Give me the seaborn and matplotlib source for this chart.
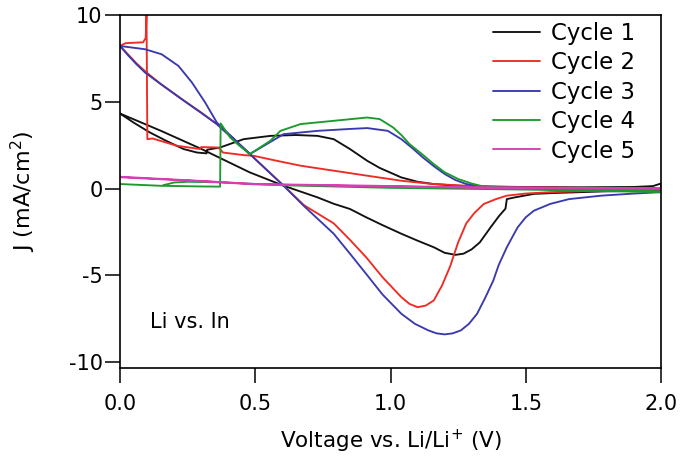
import numpy as np
import pandas as pd
import seaborn as sns
import matplotlib.pyplot as plt

# Cyclic voltammetry, Li vs. In, five cycles
v1 = [0.00, 0.05, 0.11, 0.17, 0.235, 0.284, 0.32, 0.322, 0.37, 0.457, 0.556, 0.65, 0.73, 0.79,
      0.85, 0.914, 0.96, 1.04, 1.10, 1.16, 1.25, 1.35, 1.50, 1.70, 1.90, 1.97, 2.00,
      2.00, 1.80, 1.60, 1.53, 1.46, 1.43, 1.425, 1.40, 1.37, 1.33, 1.30, 1.27, 1.24,
      1.20, 1.16, 1.10, 1.04, 0.97, 0.91, 0.85, 0.79, 0.73, 0.605, 0.48, 0.30, 0.15, 0.00]
j1 = [4.34, 3.82, 3.25, 2.77, 2.29, 2.09, 2.04, 2.25, 2.38, 2.86, 3.05, 3.10, 3.05, 2.86,
      2.29, 1.61, 1.20, 0.65, 0.40, 0.27, 0.17, 0.12, 0.10, 0.08, 0.10, 0.15, 0.30,
      -0.10, -0.15, -0.25, -0.30, -0.50, -0.60, -1.15, -1.60, -2.23, -3.10, -3.50, -3.75, -3.82,
      -3.70, -3.38, -3.00, -2.60, -2.10, -1.65, -1.17, -0.87, -0.50, 0.17, 0.94, 2.30, 3.35, 4.34]

v2 = [0.00, 0.02, 0.055, 0.085, 0.095, 0.098, 0.101, 0.12, 0.21, 0.296, 0.30, 0.31, 0.36, 0.37,
      0.38, 0.457, 0.494, 0.58, 0.667, 0.79, 0.914, 1.04, 1.15, 1.28, 1.45, 1.70, 2.00,
      2.00, 1.80, 1.59, 1.50, 1.43, 1.39, 1.345, 1.31, 1.28, 1.25, 1.22, 1.19, 1.16, 1.13,
      1.10, 1.07, 1.04, 0.97, 0.91, 0.85, 0.79, 0.68, 0.605, 0.48, 0.358, 0.30, 0.235,
      0.15, 0.095, 0.06, 0.03, 0.00]
j2 = [8.24, 8.40, 8.43, 8.45, 8.70, 10.15, 2.86, 2.90, 2.48, 2.29, 2.40, 2.40, 2.38, 2.29,
      2.09, 1.94, 1.90, 1.61, 1.33, 1.04, 0.75, 0.46, 0.28, 0.17, 0.10, 0.05, 0.00,
      -0.05, -0.10, -0.20, -0.28, -0.40, -0.60, -0.88, -1.40, -2.00, -3.10, -4.50, -5.60, -6.45, -6.75,
      -6.84, -6.65, -6.26, -5.10, -3.96, -2.95, -2.00, -0.95, 0.17, 2.00, 3.73, 4.40, 5.10,
      6.05, 6.75, 7.25, 7.75, 8.24]

v3 = [0.00, 0.093, 0.154, 0.216, 0.266, 0.315, 0.358, 0.42, 0.48, 0.543, 0.605, 0.73, 0.85,
      0.914, 0.99, 1.04, 1.08, 1.12, 1.16, 1.20, 1.24, 1.28, 1.345, 1.50, 1.80, 2.00,
      2.00, 1.90, 1.78, 1.66, 1.59, 1.53, 1.50, 1.47, 1.45, 1.43, 1.40, 1.38, 1.35, 1.32,
      1.29, 1.26, 1.23, 1.20, 1.17, 1.14, 1.09, 1.04, 0.97, 0.91, 0.85, 0.79, 0.68, 0.605,
      0.48, 0.358, 0.30, 0.228, 0.15, 0.093, 0.06, 0.03, 0.00]
j3 = [8.24, 8.05, 7.76, 7.09, 6.13, 4.97, 3.82, 2.90, 2.00, 2.58, 3.15, 3.34, 3.45,
      3.50, 3.34, 2.86, 2.35, 1.80, 1.30, 0.85, 0.50, 0.27, 0.12, 0.06, 0.04, 0.02,
      -0.20, -0.28, -0.40, -0.60, -0.88, -1.27, -1.65, -2.23, -2.80, -3.38, -4.40, -5.30, -6.30, -7.22,
      -7.80, -8.18, -8.35, -8.41, -8.35, -8.18, -7.80, -7.22, -6.10, -4.92, -3.75, -2.60, -1.00, 0.17,
      2.00, 3.73, 4.38, 5.17, 6.05, 6.70, 7.20, 7.70, 8.24]

v4 = [0.00, 0.148, 0.30, 0.37, 0.372, 0.407, 0.44, 0.48, 0.51, 0.556, 0.593, 0.667, 0.79,
      0.914, 0.96, 1.01, 1.04, 1.07, 1.12, 1.16, 1.20, 1.25, 1.30, 1.345, 1.50, 1.80, 2.00,
      2.00, 1.50, 1.00, 0.60, 0.37, 0.25, 0.20, 0.16]
j4 = [0.27, 0.17, 0.13, 0.12, 3.77, 2.96, 2.50, 2.00, 2.30, 2.77, 3.34, 3.73, 3.92,
      4.11, 4.02, 3.53, 3.10, 2.58, 1.95, 1.42, 0.95, 0.56, 0.30, 0.12, 0.02, -0.05, -0.15,
      -0.20, -0.05, 0.05, 0.20, 0.37, 0.40, 0.36, 0.20]

v5 = [0.00, 0.30, 0.50, 0.90, 1.30, 2.00, 2.00, 1.30, 0.90, 0.50, 0.30, 0.00]
j5 = [0.69, 0.45, 0.27, 0.18, 0.08, 0.02, 0.00, 0.06, 0.15, 0.25, 0.43, 0.66]

cycles = ['Cycle 1', 'Cycle 2', 'Cycle 3', 'Cycle 4', 'Cycle 5']
colors = ['#111111', '#ee2b24', '#3a3aae', '#1c9a2c', '#d43fb4']

frames = []
for name, v, j in zip(cycles, [v1, v2, v3, v4, v5], [j1, j2, j3, j4, j5]):
    frames.append(pd.DataFrame({'voltage': v, 'current': j, 'cycle': name}))
df = pd.concat(frames, ignore_index=True)

sns.set_style('ticks')
plt.rcParams['font.family'] = ['DejaVu Sans']
plt.rcParams['axes.unicode_minus'] = False
plt.rcParams['text.color'] = 'black'
plt.rcParams['axes.labelcolor'] = 'black'
plt.rcParams['xtick.color'] = 'black'
plt.rcParams['ytick.color'] = 'black'

fig = plt.figure(figsize=(6.85, 4.59), dpi=100)
ax = fig.add_axes([0.1752, 0.1983, 0.7898, 0.7687])

sns.lineplot(data=df, x='voltage', y='current', hue='cycle', palette=dict(zip(cycles, colors)),
             sort=False, estimator=None, linewidth=1.35, ax=ax)

ax.set_xlim(0, 2.0)
ax.set_ylim(-10.35, 10.02)
ax.set_xticks([0.0, 0.5, 1.0, 1.5, 2.0])
ax.set_xticklabels(['0.0', '0.5', '1.0', '1.5', '2.0'])
ax.set_yticks([-10, -5, 0, 5, 10])
ax.tick_params(direction='out', length=11, width=1.1, labelsize=15)
ax.tick_params(axis='x', pad=8)
ax.tick_params(axis='y', pad=1.5)
for s in ax.spines.values():
    s.set_linewidth(1.2)
    s.set_color('black')

ax.set_xlabel('Voltage vs. Li/Li$^{+}$ (V)', fontsize=15.5)
ax.set_ylabel('J (mA/cm$^{2}$)', fontsize=16)
ax.xaxis.set_label_coords(0.5, -0.17)
ax.yaxis.set_label_coords(-0.152, 0.5)

ax.text(0.055, 0.13, 'Li vs. In', transform=ax.transAxes, fontsize=15, va='center')

ax.legend(loc='upper left', bbox_to_anchor=(0.673, 1.007), frameon=False, fontsize=16.5,
          handlelength=2.05, handletextpad=0.48, labelspacing=0.28, borderaxespad=0)

fig.savefig('out.png', dpi=100)
